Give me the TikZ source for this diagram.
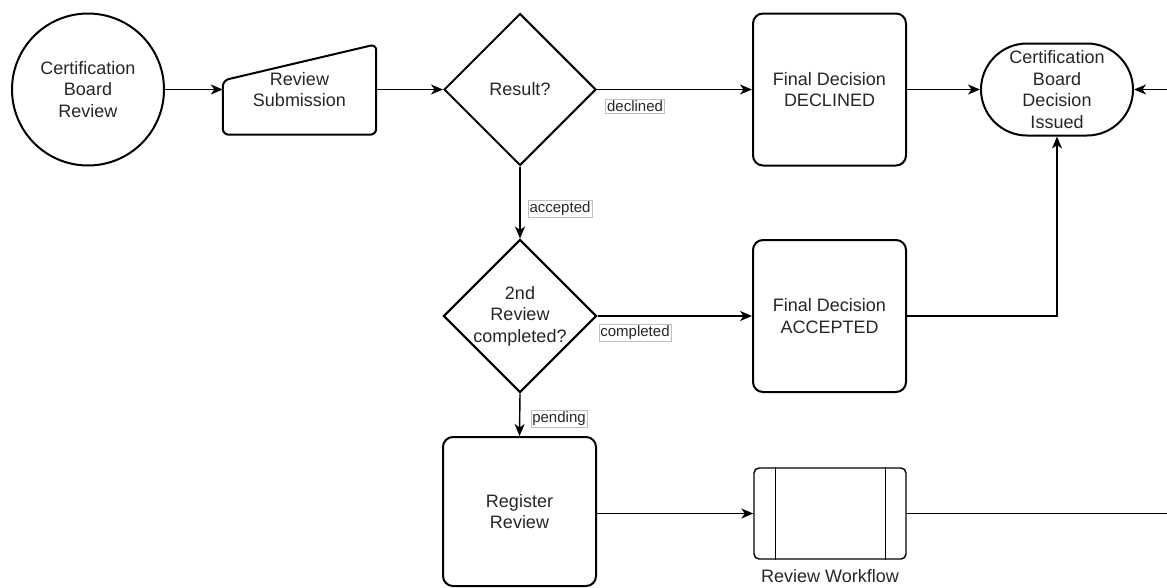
\documentclass[tikz,border=0pt]{standalone}
\usepackage{fontspec}
\setmainfont{Liberation Sans}
\usetikzlibrary{shapes.geometric,arrows.meta,calc}

\begin{document}
\begin{tikzpicture}[x=1pt,y=-1pt,
  every node/.style={font=\fontsize{18}{21.6}\selectfont, text=black!85},
  box/.style={draw, line width=2pt, rounded corners=10pt, minimum width=153pt,
    minimum height=152pt, align=center, inner sep=0pt},
  dec/.style={draw, diamond, line width=2pt, minimum width=152pt,
    minimum height=152pt, inner sep=0pt, align=center},
  flow/.style={draw, line width=1.4pt, -{Stealth[length=12pt,width=10pt,inset=3.5pt]}},
  plain/.style={draw, line width=1.4pt},
  lbl/.style={draw=black!25, line width=0.6pt, fill=white, inner sep=1.5pt,
    font=\fontsize{15}{18}\selectfont}
]
\useasboundingbox (0,0) rectangle (1167,587);

% start event
\node[circle, draw, line width=2pt, minimum size=152pt, inner sep=0pt, align=center]
  (cbr) at (88,89.5) {Certification\\Board\\Review};

% manual input: review submission
\node[minimum width=153pt, minimum height=90pt, inner sep=0pt, align=center]
  (sub) at (299.5,89.5) {Review\\Submission};
\draw[line width=2pt, rounded corners=6pt]
  ($(sub.south west)!0.5!(sub.south east)$) -- (sub.south west)
  -- ($(sub.north west)!0.4!(sub.south west)$) -- (sub.north east)
  -- (sub.south east) -- cycle;

% decisions
\node[dec] (res) at (520,89.5) {Result?};
\node[dec] (rev2) at (520,316) {2nd\\Review\\completed?};

% outcomes
\node[box] (dcl) at (829.5,89.5) {Final Decision\\DECLINED};
\node[box] (acc) at (829.5,316) {Final Decision\\ACCEPTED};
\node[draw, line width=2pt, rounded corners=46pt, minimum width=152pt,
  minimum height=92pt, inner sep=0pt, align=center]
  (cbd) at (1057,89.5) {Certification\\Board\\Decision\\Issued};

% registration and sub-process
\node[box, minimum height=149pt] (reg) at (519.5,511.5) {Register\\Review};
\node[draw, line width=1.4pt, rounded corners=5pt, minimum width=152pt,
  minimum height=91pt, inner sep=0pt,
  label={[label distance=6pt]below:Review Workflow}] (rw) at (830,513.5) {};
\draw[line width=1.4pt] ([xshift=22pt]rw.north west) -- ([xshift=22pt]rw.south west);
\draw[line width=1.4pt] ([xshift=-21pt]rw.north east) -- ([xshift=-21pt]rw.south east);

% connectors
\coordinate (rin) at (1167,89.5);
\coordinate (rout) at (1167,513.5);
\draw[flow] (cbr.east) -- (sub.west);
\draw[flow] (sub.east) -- (res.west);
\draw[flow] (res.east) -- (dcl.west);
\draw[flow] (dcl.east) -- (cbd.west);
\draw[flow] (rin) -- (cbd.east);
\draw[flow] (res.south) -- (rev2.north);
\draw[flow] (rev2.east) -- (acc.west);
\draw[flow] (acc.east) -| (cbd.south);
\draw[flow] (rev2.south) -- (reg.north);
\draw[flow] (reg.east |- rw.west) -- (rw.west);
\draw[plain] (rw.east) -- (rout);

% connector labels
\node[lbl] (ldcl) at (635,106) {declined};
\node[lbl] (lacc) at (560,209) {accepted};
\node[lbl] (lcmp) at (635,333) {completed};
\node[lbl] (lpen) at (559,419) {pending};
\end{tikzpicture}
\end{document}
